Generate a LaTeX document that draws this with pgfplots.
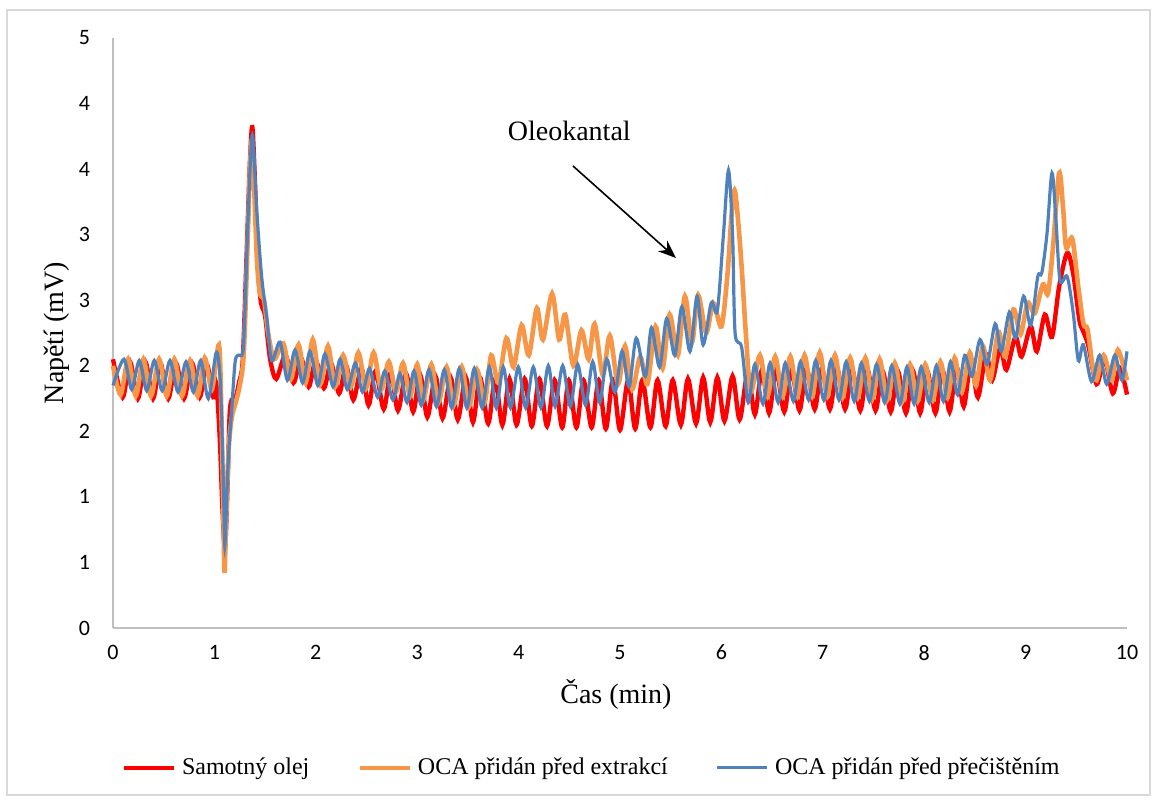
\documentclass[border=0pt]{standalone}
\usepackage{pgfplots}
\pgfplotsset{compat=1.18}
\usetikzlibrary{arrows.meta}
\usepackage{fontspec}
\setmainfont{Liberation Serif}
\newfontfamily\carlito{Carlito}
\definecolor{cred}{RGB}{255,0,0}
\definecolor{corange}{RGB}{247,150,70}
\definecolor{cblue}{RGB}{79,129,189}
\definecolor{caxis}{RGB}{191,191,191}
\definecolor{cframe}{RGB}{217,217,217}
\begin{document}
\begin{tikzpicture}
\path[use as bounding box] (0,0) rectangle (578.5pt,400pt);
\draw[cframe, line width=0.6pt] (3.5pt,2.5pt) rectangle (575pt,395pt);
\begin{axis}[
  at={(56.5pt,86pt)}, anchor=south west,
  scale only axis, width=507pt, height=295pt,
  xmin=0, xmax=10, ymin=0, ymax=4.5,
  xtick={0,1,...,10},
  ytick={0,0.5,1,1.5,2,2.5,3,3.5,4,4.5},
  yticklabels={0,1,1,2,2,3,3,4,4,5},
  axis x line*=bottom, axis y line*=left,
  axis line style={caxis, line width=0.8pt, -},
  major tick length=0pt,
  /pgf/number format/assume math mode=true,
  tick label style={font=\carlito\fontsize{11}{13}\selectfont, black},
  xticklabel style={yshift=-5pt},
  yticklabel style={xshift=-8pt},
  xlabel={Čas (min)}, ylabel={Napětí (mV)},
  xlabel style={at={(axis description cs:0.496,-0.112)}, anchor=center, font=\fontsize{14}{16}\selectfont},
  ylabel style={at={(axis description cs:-0.0552,0.5)}, anchor=center, font=\fontsize{14}{16}\selectfont},
  legend columns=3,
  legend style={at={(axis description cs:0.473,-0.237)}, anchor=center, draw=none, fill=none,
    font=\fontsize{12}{14}\selectfont,
    /tikz/every even column/.append style={column sep=22pt},
    /tikz/every odd column/.append style={column sep=1pt}},
  legend image code/.code={\draw[#1] (0pt,0pt) -- (25pt,0pt);},
  clip=false,
]
% Samotny olej (red)
\addplot[cred, line width=2.2pt, smooth, tension=0.5] coordinates {
(0.000,2.05) (0.095,1.76) (0.168,2.03) (0.245,1.75) (0.319,2.03) (0.395,1.75)
(0.467,2.02) (0.545,1.75) (0.622,2.02) (0.700,1.75) (0.780,2.02) (0.855,1.76)
(0.925,2.01) (0.990,1.76) (1.020,1.86) (1.055,1.41) (1.080,0.90) (1.105,0.61)
(1.130,1.10) (1.150,1.62) (1.170,1.74) (1.210,1.76) (1.245,1.88) (1.280,2.05)
(1.320,2.90) (1.350,3.55) (1.374,3.82) (1.400,3.40) (1.430,2.75) (1.460,2.48)
(1.500,2.38) (1.550,2.05) (1.610,1.90) (1.700,2.08) (1.780,1.87) (1.855,2.06)
(1.930,1.84) (2.000,2.04) (2.080,1.83) (2.150,2.02) (2.230,1.79) (2.300,2.00)
(2.370,1.74) (2.450,1.98) (2.520,1.70) (2.590,1.96) (2.670,1.67) (2.740,1.95)
(2.810,1.66) (2.890,1.94) (2.960,1.65) (3.030,1.93) (3.100,1.61) (3.180,1.92)
(3.250,1.60) (3.330,1.91) (3.400,1.59) (3.480,1.91) (3.550,1.57) (3.620,1.91)
(3.700,1.56) (3.770,1.90) (3.840,1.55) (3.910,1.90) (3.980,1.55) (4.060,1.90)
(4.130,1.54) (4.205,1.90) (4.280,1.54) (4.355,1.89) (4.430,1.53) (4.495,1.89)
(4.570,1.53) (4.640,1.89) (4.720,1.53) (4.790,1.89) (4.860,1.52) (4.930,1.89)
(5.000,1.51) (5.080,1.89) (5.150,1.52) (5.220,1.89) (5.300,1.53) (5.370,1.89)
(5.450,1.54) (5.520,1.89) (5.600,1.55) (5.670,1.90) (5.750,1.56) (5.820,1.91)
(5.890,1.57) (5.960,1.91) (6.030,1.58) (6.110,1.92) (6.180,1.59) (6.260,1.95)
(6.330,1.63) (6.400,1.97) (6.470,1.64) (6.540,1.97) (6.620,1.65) (6.690,1.97)
(6.770,1.66) (6.840,1.98) (6.920,1.67) (6.990,1.98) (7.070,1.67) (7.140,1.98)
(7.220,1.67) (7.290,1.97) (7.370,1.66) (7.440,1.97) (7.520,1.66) (7.590,1.96)
(7.670,1.65) (7.740,1.96) (7.820,1.64) (7.890,1.96) (7.960,1.64) (8.030,1.96)
(8.110,1.64) (8.180,1.97) (8.250,1.65) (8.320,1.99) (8.390,1.69) (8.460,2.03)
(8.530,1.76) (8.610,2.09) (8.670,1.89) (8.750,2.14) (8.810,1.97) (8.900,2.22)
(8.960,2.07) (9.050,2.30) (9.110,2.11) (9.190,2.39) (9.260,2.22) (9.330,2.60)
(9.410,2.86) (9.470,2.70) (9.530,2.35) (9.570,2.26) (9.620,2.15) (9.700,1.86)
(9.780,2.05) (9.860,1.79) (9.930,1.98) (10.000,1.78)
};
\addlegendentry{Samotný olej}
% OCA pridan pred extrakci (orange)
\addplot[corange, line width=2.3pt, smooth, tension=0.5] coordinates {
(0.000,2.00) (0.075,1.78) (0.150,2.05) (0.225,1.77) (0.300,2.05) (0.375,1.77)
(0.455,2.05) (0.530,1.77) (0.605,2.05) (0.680,1.77) (0.760,2.04) (0.835,1.77)
(0.905,2.06) (0.975,1.82) (1.045,2.16) (1.070,1.60) (1.090,0.80) (1.100,0.42)
(1.115,0.80) (1.140,1.35) (1.170,1.60) (1.210,1.72) (1.250,1.85) (1.290,2.10)
(1.330,3.00) (1.350,3.50) (1.370,3.72) (1.390,3.40) (1.420,2.80) (1.450,2.55)
(1.490,2.50) (1.530,2.25) (1.590,2.05) (1.680,2.17) (1.755,1.90) (1.830,2.16)
(1.900,1.87) (1.970,2.20) (2.045,1.86) (2.120,2.15) (2.190,1.84) (2.270,2.08)
(2.345,1.84) (2.420,2.10) (2.495,1.83) (2.570,2.10) (2.645,1.82) (2.720,2.03)
(2.790,1.80) (2.860,2.02) (2.930,1.77) (3.000,2.01) (3.060,1.74) (3.140,2.01)
(3.210,1.72) (3.290,1.99) (3.360,1.70) (3.440,1.99) (3.510,1.69) (3.590,1.97)
(3.665,1.72) (3.730,2.08) (3.800,1.87) (3.880,2.21) (3.950,1.99) (4.030,2.31)
(4.100,2.08) (4.180,2.44) (4.240,2.20) (4.330,2.55) (4.400,2.20) (4.460,2.39)
(4.540,2.00) (4.620,2.27) (4.690,2.05) (4.750,2.32) (4.830,1.93) (4.900,2.23)
(4.980,1.86) (5.050,2.15) (5.120,1.82) (5.200,2.07) (5.270,1.86) (5.350,2.30)
(5.420,1.98) (5.490,2.39) (5.570,2.08) (5.640,2.53) (5.710,2.18) (5.770,2.54)
(5.850,2.25) (5.920,2.48) (6.000,2.30) (6.060,2.70) (6.100,3.15) (6.130,3.34)
(6.160,3.15) (6.200,2.75) (6.245,2.20) (6.290,1.80) (6.380,2.08) (6.455,1.77)
(6.530,2.07) (6.605,1.77) (6.680,2.07) (6.750,1.77) (6.820,2.08) (6.895,1.77)
(6.970,2.10) (7.045,1.77) (7.120,2.08) (7.195,1.76) (7.270,2.06) (7.345,1.76)
(7.420,2.06) (7.490,1.75) (7.560,2.05) (7.635,1.74) (7.710,2.02) (7.785,1.73)
(7.860,2.01) (7.935,1.73) (8.010,2.01) (8.085,1.74) (8.160,2.03) (8.230,1.76)
(8.300,2.06) (8.370,1.80) (8.450,2.10) (8.510,1.85) (8.580,2.15) (8.650,1.89)
(8.730,2.26) (8.800,2.07) (8.880,2.43) (8.950,2.24) (9.020,2.48) (9.090,2.40)
(9.170,2.62) (9.220,2.55) (9.270,2.90) (9.330,3.47) (9.370,3.20) (9.400,2.90)
(9.460,2.97) (9.520,2.60) (9.570,2.32) (9.610,2.28) (9.660,2.00) (9.700,1.89)
(9.770,2.08) (9.850,1.89) (9.910,2.12) (10.000,1.89)
};
\addlegendentry{OCA přidán před extrakcí}
% OCA pridan pred precistenim (blue)
\addplot[cblue, line width=1.6pt, smooth, tension=0.5] coordinates {
(0.000,1.85) (0.108,2.05) (0.184,1.82) (0.259,2.04) (0.333,1.81) (0.407,2.04)
(0.485,1.81) (0.562,2.04) (0.641,1.80) (0.720,2.03) (0.793,1.80) (0.865,2.04)
(0.940,1.75) (1.018,2.10) (1.055,1.92) (1.078,1.41) (1.098,0.77) (1.105,0.65)
(1.137,1.28) (1.170,1.66) (1.203,2.02) (1.230,2.08) (1.280,2.10) (1.300,2.40)
(1.335,3.19) (1.374,3.76) (1.417,3.19) (1.466,2.68) (1.516,2.37) (1.565,2.04)
(1.647,2.18) (1.720,1.89) (1.795,2.12) (1.870,1.87) (1.943,2.11) (2.020,1.85)
(2.090,2.09) (2.170,1.84) (2.240,2.05) (2.310,1.82) (2.390,2.02) (2.460,1.80)
(2.530,1.98) (2.610,1.76) (2.680,1.96) (2.760,1.74) (2.830,1.94) (2.900,1.72)
(2.968,1.96) (3.040,1.70) (3.116,1.97) (3.190,1.69) (3.267,1.97) (3.340,1.68)
(3.415,1.98) (3.490,1.68) (3.563,1.98) (3.640,1.68) (3.711,1.99) (3.780,1.68)
(3.849,1.99) (3.920,1.68) (3.997,1.99) (4.070,1.68) (4.145,1.99) (4.220,1.68)
(4.293,2.00) (4.360,1.69) (4.435,2.00) (4.510,1.69) (4.583,2.01) (4.660,1.70)
(4.731,2.03) (4.800,1.72) (4.869,2.05) (4.950,1.80) (5.020,2.11) (5.090,1.84)
(5.160,2.21) (5.250,1.92) (5.310,2.29) (5.390,1.99) (5.460,2.36) (5.540,2.08)
(5.610,2.45) (5.690,2.11) (5.760,2.53) (5.820,2.16) (5.900,2.48) (5.960,2.42)
(6.020,3.00) (6.070,3.49) (6.110,3.00) (6.135,2.25) (6.200,2.14) (6.265,1.72)
(6.330,2.01) (6.410,1.71) (6.480,2.02) (6.560,1.72) (6.630,2.02) (6.710,1.73)
(6.780,2.03) (6.860,1.74) (6.930,2.04) (7.010,1.74) (7.080,2.04) (7.160,1.74)
(7.230,2.03) (7.310,1.73) (7.380,2.02) (7.460,1.73) (7.530,2.01) (7.610,1.72)
(7.680,2.00) (7.760,1.71) (7.830,1.99) (7.900,1.71) (7.970,1.99) (8.050,1.72)
(8.120,2.00) (8.190,1.73) (8.260,2.03) (8.330,1.78) (8.400,2.08) (8.470,1.92)
(8.550,2.20) (8.620,2.01) (8.700,2.32) (8.760,2.11) (8.840,2.41) (8.900,2.21)
(8.980,2.53) (9.050,2.31) (9.120,2.68) (9.160,2.71) (9.210,3.00) (9.260,3.47)
(9.300,3.10) (9.340,2.65) (9.410,2.68) (9.470,2.40) (9.520,2.04) (9.570,2.16)
(9.650,1.88) (9.730,2.08) (9.800,1.86) (9.880,2.08) (9.950,1.89) (10.000,2.11)
};
\addlegendentry{OCA přidán před přečištěním}
\node[font=\fontsize{14}{16}\selectfont] at (axis cs:4.5,3.79) {Oleokantal};
\end{axis}
\draw[-{Stealth[length=9pt,width=7pt]}, line width=0.8pt] (286.5pt,317pt) -- (338pt,271pt);
\end{tikzpicture}
\end{document}
